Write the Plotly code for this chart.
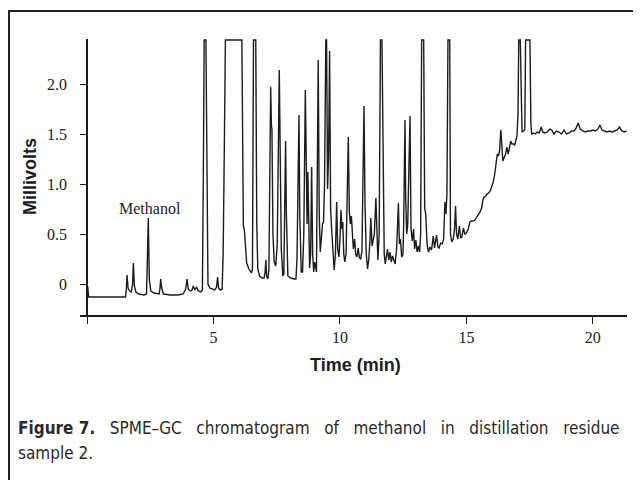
import plotly.graph_objects as go

# ---- chromatogram: time (min) / signal (mV) ----
seg_a_t = [0.00, 0.03, 0.06, 0.50, 1.00, 1.52, 1.55, 1.58, 1.62, 1.68, 1.75, 1.80, 1.83, 1.87, 1.93, 2.05, 2.25, 2.35, 2.38, 2.42, 2.46, 2.52, 2.65, 2.85, 2.88, 2.91, 2.95, 3.02, 3.30, 3.60, 3.80, 3.90, 3.95, 4.00, 4.08, 4.15, 4.20, 4.26, 4.33, 4.40, 4.50]
seg_a_v = [-0.02, -0.03, -0.13, -0.13, -0.13, -0.13, -0.06, 0.09, -0.04, -0.07, -0.08, 0.00, 0.21, -0.02, -0.08, -0.10, -0.11, -0.10, 0.20, 0.66, 0.05, -0.07, -0.09, -0.10, -0.05, 0.05, -0.04, -0.10, -0.11, -0.11, -0.10, -0.05, 0.05, -0.05, -0.07, -0.06, -0.02, -0.06, -0.03, -0.07, -0.08]

seg_b_t = [4.56, 4.60, 4.63, 4.70, 4.74, 4.78, 4.85, 4.95, 5.05, 5.12, 5.16, 5.20, 5.28, 5.34, 5.38, 5.42, 5.47, 6.12, 6.16, 6.18, 6.22, 6.26, 6.31, 6.40, 6.50]
seg_b_v = [-0.06, 1.20, 2.44, 2.44, 1.00, 0.00, -0.04, -0.05, -0.06, -0.03, 0.07, -0.04, -0.06, -0.05, 0.30, 1.20, 2.44, 2.44, 1.20, 0.58, 0.54, 0.35, 0.21, 0.15, 0.11]

seg_c_t = [6.54, 6.58, 6.67, 6.71, 6.75, 6.82, 6.92, 7.00, 7.04, 7.07, 7.10, 7.15, 7.19, 7.26, 7.29, 7.31, 7.35, 7.40, 7.46, 7.52, 7.60, 7.63, 7.68, 7.74, 7.78, 7.85, 7.88, 7.94, 8.05]
seg_c_v = [0.15, 2.44, 2.44, 0.60, 0.15, 0.08, 0.06, 0.06, 0.12, 0.24, 0.08, 0.05, 0.15, 1.97, 1.58, 1.55, 0.50, 0.22, 0.18, 0.40, 2.14, 1.20, 0.35, 0.08, 0.10, 1.43, 0.70, 0.08, 0.06]

seg_d_t = [8.18, 8.26, 8.30, 8.38, 8.41, 8.47, 8.52, 8.57, 8.63, 8.67, 8.70, 8.73, 8.77, 8.80, 8.84, 8.88, 8.92, 8.96, 9.00, 9.03, 9.07, 9.14, 9.18, 9.22, 9.27, 9.31, 9.35, 9.39, 9.44, 9.47, 9.51, 9.55, 9.59, 9.63, 9.67, 9.72, 9.77]
seg_d_v = [0.05, 0.05, 0.25, 1.69, 0.70, 0.12, 0.12, 0.50, 1.94, 0.80, 0.60, 1.12, 0.35, 0.16, 0.30, 1.17, 0.30, 0.12, 0.22, 0.15, 0.12, 2.24, 0.70, 0.32, 0.45, 0.60, 0.62, 1.00, 2.44, 2.44, 0.95, 1.30, 2.33, 0.75, 0.55, 0.28, 0.14]

seg_e_t = [9.82, 9.87, 9.91, 9.96, 10.00, 10.04, 10.08, 10.11, 10.15, 10.19, 10.24, 10.33, 10.37, 10.41, 10.45, 10.49, 10.53, 10.58, 10.62, 10.67, 10.72, 10.77, 10.82, 10.87, 10.95, 10.99, 11.04, 11.09, 11.14, 11.19, 11.22, 11.27, 11.31, 11.36, 11.42, 11.46, 11.50]
seg_e_v = [0.30, 0.82, 0.35, 0.27, 0.45, 0.74, 0.55, 0.62, 0.30, 0.22, 0.30, 1.47, 0.72, 0.60, 0.68, 0.42, 0.35, 0.45, 0.30, 0.27, 0.36, 0.26, 0.25, 0.33, 1.78, 0.80, 0.30, 0.15, 0.25, 0.45, 0.66, 0.38, 0.45, 0.50, 0.86, 0.40, 0.24]

seg_f_t = [11.55, 11.60, 11.66, 11.71, 11.75, 11.79, 11.84, 11.88, 11.93, 11.98, 12.03, 12.08, 12.13, 12.18, 12.24, 12.31, 12.35, 12.39, 12.44, 12.49, 12.52, 12.57, 12.60, 12.64, 12.68, 12.77, 12.81, 12.86, 12.91, 12.95, 13.00, 13.05, 13.10, 13.15]
seg_f_v = [0.50, 2.44, 2.44, 0.90, 0.30, 0.20, 0.30, 0.35, 0.24, 0.32, 0.22, 0.28, 0.24, 0.20, 0.35, 0.81, 0.40, 0.45, 0.27, 0.30, 0.60, 1.64, 0.85, 0.50, 0.60, 1.68, 0.55, 0.43, 0.55, 0.35, 0.44, 0.32, 0.38, 0.32]

seg_g_t = [13.19, 13.23, 13.31, 13.35, 13.39, 13.45, 13.50, 13.56, 13.62, 13.69, 13.74, 13.82, 13.87, 13.92, 13.98, 14.04, 14.10, 14.15, 14.19, 14.23, 14.27, 14.34, 14.37, 14.42, 14.48, 14.53, 14.57, 14.61, 14.66, 14.72, 14.77, 14.82, 14.88, 14.94, 15.00]
seg_g_v = [0.50, 2.44, 2.44, 0.76, 0.70, 0.38, 0.32, 0.37, 0.34, 0.48, 0.36, 0.49, 0.37, 0.36, 0.41, 0.40, 0.45, 0.82, 0.70, 0.90, 2.44, 2.44, 0.50, 0.42, 0.45, 0.55, 0.78, 0.50, 0.45, 0.58, 0.46, 0.47, 0.56, 0.50, 0.51]

seg_h_t = [15.07, 15.14, 15.20, 15.27, 15.34, 15.41, 15.47, 15.54, 15.60, 15.65, 15.70, 15.76, 15.82, 15.88, 15.94, 16.00, 16.06, 16.12, 16.17, 16.22, 16.27, 16.31, 16.36, 16.40, 16.44, 16.50, 16.55, 16.60, 16.65, 16.70, 16.75, 16.80, 16.86, 16.91, 16.96, 17.00]
seg_h_v = [0.55, 0.62, 0.63, 0.63, 0.64, 0.67, 0.69, 0.72, 0.76, 0.84, 0.87, 0.88, 0.90, 0.91, 0.93, 0.98, 1.02, 1.10, 1.20, 1.30, 1.28, 1.33, 1.54, 1.30, 1.23, 1.27, 1.30, 1.37, 1.30, 1.36, 1.43, 1.40, 1.40, 1.39, 1.45, 1.48]

seg_i_t = [17.04, 17.07, 17.13, 17.17, 17.20, 17.26, 17.31, 17.34, 17.51, 17.55, 17.58, 17.65, 17.72, 17.80, 17.88, 17.96, 18.02, 18.10, 18.20, 18.30, 18.38, 18.46, 18.56, 18.66, 18.76, 18.86, 18.96, 19.06, 19.16, 19.26, 19.34, 19.42, 19.50, 19.60, 19.70, 19.80, 19.90, 20.00, 20.10, 20.20, 20.28, 20.36, 20.46, 20.56, 20.66, 20.76, 20.86, 20.96, 21.06, 21.14, 21.24, 21.33]
seg_i_v = [1.70, 2.44, 2.44, 1.60, 1.52, 1.53, 1.55, 2.44, 2.44, 1.60, 1.50, 1.51, 1.50, 1.52, 1.51, 1.57, 1.52, 1.51, 1.52, 1.55, 1.54, 1.50, 1.53, 1.52, 1.50, 1.54, 1.50, 1.51, 1.53, 1.53, 1.56, 1.61, 1.55, 1.53, 1.52, 1.53, 1.53, 1.54, 1.53, 1.55, 1.59, 1.54, 1.53, 1.52, 1.53, 1.52, 1.53, 1.54, 1.57, 1.53, 1.52, 1.53]

y_tick_vals = [0, 0.5, 1.0, 1.5, 2.0]
y_tick_text = ["0", "0.5", "1.0", "1.5", "2.0"]
x_tick_vals = [0, 5, 10, 15, 20]
x_tick_text = ["", "5", "10", "15", "20"]

peak_label = "Methanol"
peak_label_time = 2.49
peak_label_mv = 0.76

caption_words = ["<b>Figure 7.</b>", "SPME–GC", "chromatogram", "of", "methanol",
                 "in", "distillation", "residue"]
caption_line2 = "sample 2."

segments_t = [seg_a_t, seg_b_t, seg_c_t, seg_d_t, seg_e_t, seg_f_t, seg_g_t, seg_h_t, seg_i_t]
segments_v = [seg_a_v, seg_b_v, seg_c_v, seg_d_v, seg_e_v, seg_f_v, seg_g_v, seg_h_v, seg_i_v]
time_min, signal_mv = [], []
for st, sv in zip(segments_t, segments_v):
    assert len(st) == len(sv), (len(st), len(sv))
    time_min += st
    signal_mv += sv

INK = "#1c1c1c"
fig = go.Figure()
fig.add_trace(go.Scatter(x=time_min, y=signal_mv, mode="lines",
                         line=dict(color=INK, width=1.4), hoverinfo="skip",
                         showlegend=False))

fig.add_annotation(x=peak_label_time, y=peak_label_mv, text=peak_label, showarrow=False,
                   xanchor="center", yanchor="middle",
                   font=dict(family="Liberation Serif", size=16, color=INK))

# axis titles
fig.add_annotation(xref="paper", yref="paper", x=0.503, y=-0.181, text="<b>Time (min)</b>",
                   xanchor="center", yanchor="middle", showarrow=False,
                   font=dict(family="Liberation Sans", size=18, color=INK))
fig.add_annotation(xref="paper", yref="paper", x=-0.0914, y=0.5, text="<b>Millivolts</b>",
                   xanchor="center", yanchor="middle", textangle=-90, showarrow=False,
                   font=dict(family="Liberation Sans", size=18, color=INK))

# caption (justified first line approximated with wider word gaps)
cap_font = dict(family="DejaVu Sans Condensed, Liberation Sans Narrow, Liberation Sans", size=17, color="#2a2a2a")
fig.add_annotation(xref="paper", yref="paper", x=-0.117, y=-0.409, xanchor="left", yanchor="middle",
                   text="&nbsp;&nbsp;&nbsp;".join(caption_words),
                   showarrow=False, font=cap_font)
fig.add_annotation(xref="paper", yref="paper", x=-0.117, y=-0.5, xanchor="left", yanchor="middle",
                   text=caption_line2, showarrow=False, font=cap_font)

# figure border
fig.add_shape(type="rect", xref="paper", yref="paper", x0=-0.1298, x1=1.0165, y0=-0.65, y1=1.1014,
              line=dict(color="#222", width=2))

fig.update_xaxes(range=[-0.28, 21.35], showgrid=False, zeroline=True, zerolinecolor=INK,
                 zerolinewidth=1.5, showline=True, linecolor=INK, linewidth=1.5,
                 ticks="outside", ticklen=7, tickwidth=1.3, tickcolor=INK,
                 tickvals=x_tick_vals, ticktext=x_tick_text,
                 tickfont=dict(family="Liberation Serif", size=16, color=INK))
fig.update_yaxes(range=[-0.31, 2.45], showgrid=False, zeroline=False, showline=False,
                 ticks="inside", ticklen=7, tickwidth=1.3, tickcolor=INK,
                 tickvals=y_tick_vals, ticktext=y_tick_text, ticklabelstandoff=12,
                 tickfont=dict(family="Liberation Serif", size=16, color=INK))

# page body adds an 8px offset; size the figure so the plot lands where the reference has it
fig.update_layout(width=633, height=472, margin=dict(l=72, r=14, t=31, b=165),
                  paper_bgcolor="white", plot_bgcolor="white")

fig.write_html("out.html")
